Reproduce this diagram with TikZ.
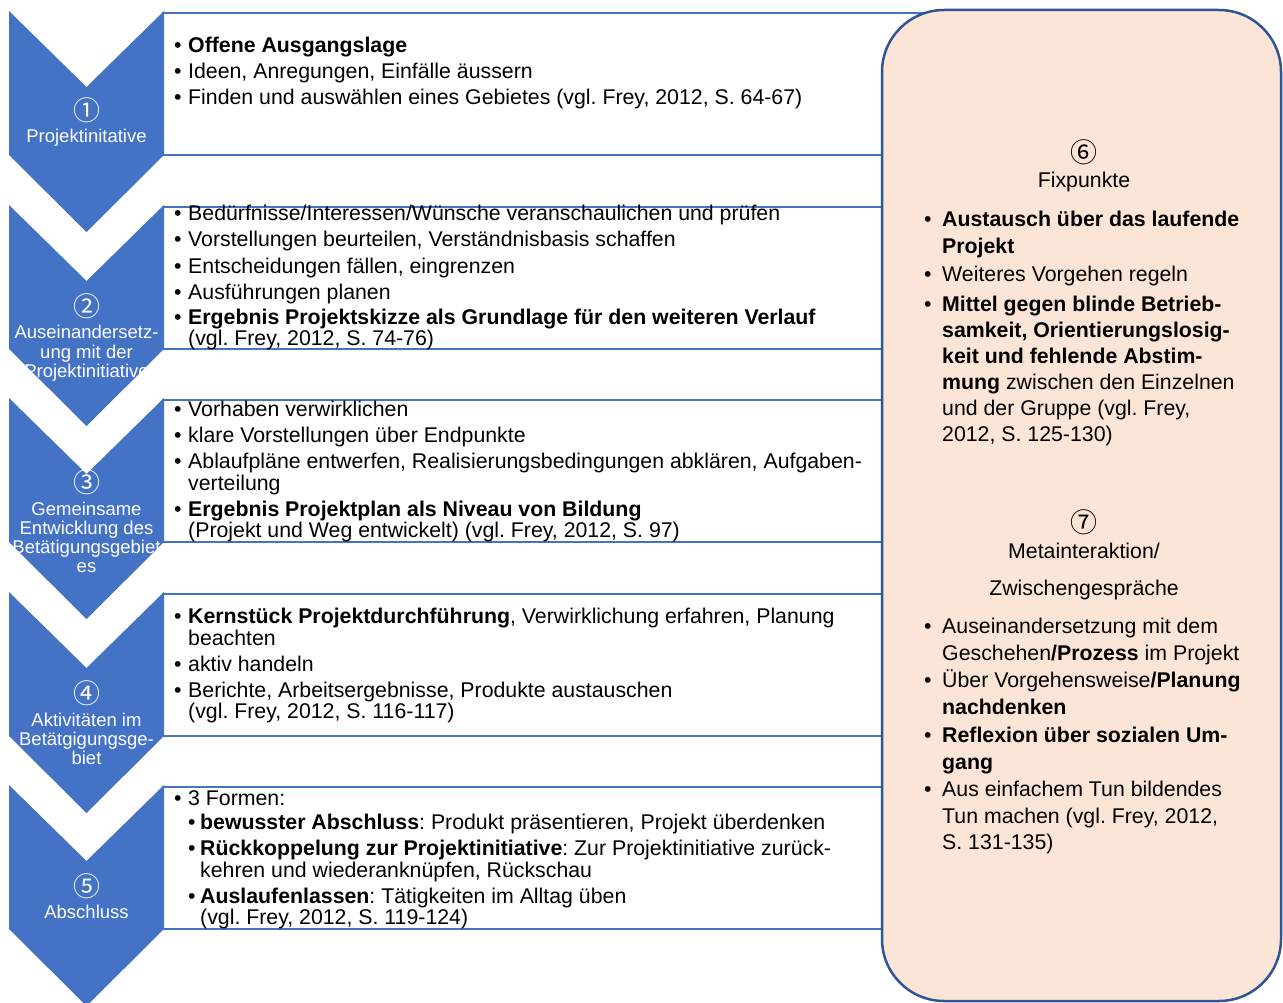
\documentclass[tikz,border=0pt]{standalone}
\usepackage{fontspec}
\setmainfont{Liberation Sans}
\newfontfamily\circfont{Noto Sans CJK JP}
\definecolor{chevblue}{HTML}{4472C4}
\definecolor{roundblue}{HTML}{2F5597}
\definecolor{peach}{HTML}{FBE5D6}
\frenchspacing

% one bulleted line in a phase box: name, baseline, text
\newcommand{\phaseitem}[3]{%
  \node[bul] (#1b) at (174,#2) {•};
  \node[txt] (#1) at (188,#2) {#3};}
% continuation line of a phase item
\newcommand{\phasecont}[3]{\node[txt] (#1) at (188,#2) {#3};}
% second-level item and its continuation
\newcommand{\phasesub}[3]{%
  \node[bul] (#1b) at (188,#2) {•};
  \node[txt] (#1) at (200,#2) {#3};}
\newcommand{\phasesubcont}[3]{\node[txt] (#1) at (200,#2) {#3};}
% items in the rounded side panel
\newcommand{\sideitem}[3]{%
  \node[bul] (#1b) at (924,#2) {•};
  \node[txt] (#1) at (942,#2) {#3};}
\newcommand{\sidecont}[3]{\node[txt] (#1) at (942,#2) {#3};}

\begin{document}
\begin{tikzpicture}[x=1pt,y=-1pt,
  txt/.style={anchor=base west, inner sep=0pt, font=\fontsize{21.3}{24}\selectfont},
  bul/.style={txt},
  lab/.style={anchor=base, inner sep=0pt, text=white, font=\fontsize{18.5}{19.5}\selectfont},
  num/.style={anchor=center, inner sep=0pt, font=\circfont\fontsize{27}{27}\selectfont},
  head/.style={anchor=base, inner sep=0pt, font=\fontsize{21.3}{24}\selectfont},
  chev/.style={fill=chevblue},
  phasebox/.style={draw=chevblue, line width=2pt, fill=white},
  panel/.style={draw=roundblue, line width=2.5pt, fill=peach, rounded corners=62pt}]
\useasboundingbox (0,0) rectangle (1283,1003);

% content boxes behind the chevrons
\foreach \t in {11,205,398,592,785}
  \draw[phasebox] (163,\t+2) rectangle (1000,\t+144);

% chevrons of the five phases
\foreach \t in {11,205,398,592,785}
  \fill[chev] (9,\t) -- (86.5,\t+76) -- (164,\t) -- (164,\t+144)
    -- (86.5,\t+221) -- (9,\t+144) -- cycle;

% side panel
\draw[panel] (882,10) rectangle (1281,1001);

% chevron labels
\node[num, text=white] (c1n) at (86.5,110) {①};
\node[lab] (c1a) at (86.5,143) {Projektinitative};
\node[num, text=white] (c2n) at (86.5,306) {②};
\node[lab] (c2a) at (86.5,338) {Auseinandersetz-};
\node[lab] (c2b) at (86.5,358) {ung mit der};
\node[lab] (c2c) at (86.5,377) {Projektinitiative};
\node[num, text=white] (c3n) at (86.5,482) {③};
\node[lab] (c3a) at (86.5,515) {Gemeinsame};
\node[lab] (c3b) at (86.5,534) {Entwicklung des};
\node[lab] (c3c) at (86.5,553) {Betätigungsgebiet};
\node[lab] (c3d) at (86.5,572) {es};
\node[num, text=white] (c4n) at (86.5,693) {④};
\node[lab] (c4a) at (86.5,726) {Aktivitäten im};
\node[lab] (c4b) at (86.5,745) {Betätgigungsge-};
\node[lab] (c4c) at (86.5,764) {biet};
\node[num, text=white] (c5n) at (86.5,886) {⑤};
\node[lab] (c5a) at (86.5,918) {Abschluss};

% phase 1
\phaseitem{p1a}{53}{\bfseries Offene Ausgangslage}
\phaseitem{p1b}{79}{Ideen, Anregungen, Einfälle äussern}
\phaseitem{p1c}{105}{Finden und auswählen eines Gebietes (vgl. Frey, 2012, S. 64-67)}

% phase 2
\phaseitem{p2a}{221}{Bedürfnisse/Interessen/Wünsche veranschaulichen und prüfen}
\phaseitem{p2b}{247}{Vorstellungen beurteilen, Verständnisbasis schaffen}
\phaseitem{p2c}{273}{Entscheidungen fällen, eingrenzen}
\phaseitem{p2d}{299}{Ausführungen planen}
\phaseitem{p2e}{324}{\bfseries Ergebnis Projektskizze als Grundlage für den weiteren Verlauf}
\phasecont{p2f}{345}{(vgl. Frey, 2012, S. 74-76)}

% phase 3
\phaseitem{p3a}{416}{Vorhaben verwirklichen}
\phaseitem{p3b}{442}{klare Vorstellungen über Endpunkte}
\phaseitem{p3c}{468}{Ablaufpläne entwerfen, Realisierungsbedingungen abklären, Aufgaben-}
\phasecont{p3d}{490}{verteilung}
\phaseitem{p3e}{516}{\bfseries Ergebnis Projektplan als Niveau von Bildung}
\phasecont{p3f}{537}{(Projekt und Weg entwickelt) (vgl. Frey, 2012, S. 97)}

% phase 4
\phaseitem{p4a}{623}{\textbf{Kernstück Projektdurchführung}, Verwirklichung erfahren, Planung}
\phasecont{p4b}{645}{beachten}
\phaseitem{p4c}{671}{aktiv handeln}
\phaseitem{p4d}{697}{Berichte, Arbeitsergebnisse, Produkte austauschen}
\phasecont{p4e}{718}{(vgl. Frey, 2012, S. 116-117)}

% phase 5
\phaseitem{p5a}{805}{3 Formen:}
\phasesub{p5b}{829}{\textbf{bewusster Abschluss}: Produkt präsentieren, Projekt überdenken}
\phasesub{p5c}{855}{\textbf{Rückkoppelung zur Projektinitiative}: Zur Projektinitiative zurück-}
\phasesubcont{p5d}{877}{kehren und wiederanknüpfen, Rückschau}
\phasesub{p5e}{903}{\textbf{Auslaufenlassen}: Tätigkeiten im Alltag üben}
\phasesubcont{p5f}{924}{(vgl. Frey, 2012, S. 119-124)}

% side panel: fixed points
\node[num] (s6n) at (1084,152) {⑥};
\node[head] (s6h) at (1084,188) {Fixpunkte};
\sideitem{s6a}{227}{\bfseries Austausch über das laufende}
\sidecont{s6b}{254}{\bfseries Projekt}
\sideitem{s6c}{282}{Weiteres Vorgehen regeln}
\sideitem{s6d}{311}{\bfseries Mittel gegen blinde Betrieb-}
\sidecont{s6e}{337}{\bfseries samkeit, Orientierungslosig-}
\sidecont{s6f}{363}{\bfseries keit und fehlende Abstim-}
\sidecont{s6g}{389}{\textbf{mung} zwischen den Einzelnen}
\sidecont{s6h2}{415}{und der Gruppe (vgl. Frey,}
\sidecont{s6i}{441}{2012, S. 125-130)}

% side panel: meta interaction
\node[num] (s7n) at (1084,522) {⑦};
\node[head] (s7h) at (1084,558) {Metainteraktion/};
\node[head] (s7k) at (1084,595) {Zwischengespräche};
\sideitem{s7a}{633}{Auseinandersetzung mit dem}
\sidecont{s7b}{660}{Geschehen\textbf{/Prozess} im Projekt}
\sideitem{s7c}{687}{Über Vorgehensweise\textbf{/Planung}}
\sidecont{s7d}{714}{\bfseries nachdenken}
\sideitem{s7e}{742}{\bfseries Reflexion über sozialen Um-}
\sidecont{s7f}{769}{\bfseries gang}
\sideitem{s7g}{796}{Aus einfachem Tun bildendes}
\sidecont{s7h}{823}{Tun machen (vgl. Frey, 2012,}
\sidecont{s7i}{849}{S. 131-135)}
\end{tikzpicture}
\end{document}
